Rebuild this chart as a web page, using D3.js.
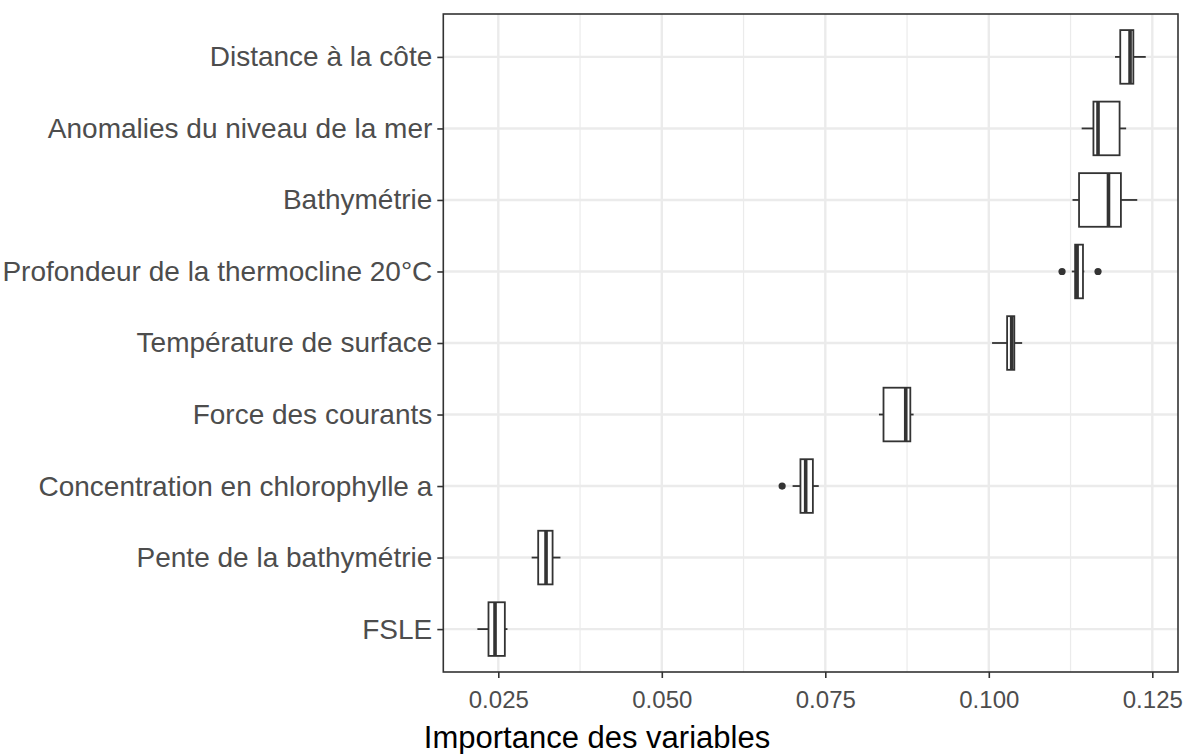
<!DOCTYPE html>
<html><head><meta charset="utf-8">
<script src="https://cdn.jsdelivr.net/npm/d3@7"></script>
<style>body{margin:0;background:#fff}</style>
</head><body><svg id="c" width="1188" height="754"></svg>
<script>
const categories = ["Distance à la côte","Anomalies du niveau de la mer","Bathymétrie","Profondeur de la thermocline 20°C","Température de surface","Force des courants","Concentration en chlorophylle a","Pente de la bathymétrie","FSLE"];
const whiskerLow  = [0.1193, 0.1142, 0.1128, 0.1127, 0.1005, 0.0832, 0.0700, 0.0301, 0.0218];
const q1          = [0.1201, 0.1160, 0.1138, 0.1132, 0.1028, 0.0839, 0.0712, 0.0311, 0.0235];
const median      = [0.1216, 0.1167, 0.1183, 0.1135, 0.1035, 0.0873, 0.0720, 0.0323, 0.0245];
const q3          = [0.1221, 0.1200, 0.1202, 0.1144, 0.1039, 0.0880, 0.0731, 0.0333, 0.0260];
const whiskerHigh = [0.1240, 0.1210, 0.1227, 0.1146, 0.1051, 0.0885, 0.0740, 0.0345, 0.0264];
const outlierCat  = ["Profondeur de la thermocline 20°C","Profondeur de la thermocline 20°C","Concentration en chlorophylle a"];
const outlierVal  = [0.1112, 0.1167, 0.0684];
const xTicks = [0.025, 0.050, 0.075, 0.100, 0.125];
const xMinor = [0.0375, 0.0625, 0.0875, 0.1125];
const xTitle = "Importance des variables";

const svg = d3.select("#c");
const L = 443.3, R = 1178, T = 14, B = 672;
const x = d3.scaleLinear().domain([0.01659, 0.12893]).range([L, R]);
const y = d3.scalePoint().domain(categories).range([T, B]).padding(0.6);
const bw = y.step() * 0.75;
const font = "Liberation Sans, Arial, sans-serif";

const g = svg.append("g");
g.append("rect").attr("x", L).attr("y", T).attr("width", R - L).attr("height", B - T).attr("fill", "#fff");
g.selectAll(".minor").data(xMinor).join("line")
  .attr("x1", d => x(d)).attr("x2", d => x(d)).attr("y1", T).attr("y2", B)
  .attr("stroke", "#ebebeb").attr("stroke-width", 1.2);
g.selectAll(".major").data(xTicks).join("line")
  .attr("x1", d => x(d)).attr("x2", d => x(d)).attr("y1", T).attr("y2", B)
  .attr("stroke", "#ebebeb").attr("stroke-width", 2.4);
g.selectAll(".hmajor").data(categories).join("line")
  .attr("x1", L).attr("x2", R).attr("y1", d => y(d)).attr("y2", d => y(d))
  .attr("stroke", "#ebebeb").attr("stroke-width", 2.4);

const rows = categories.map((c, i) => ({c, lo: whiskerLow[i], q1: q1[i], med: median[i], q3: q3[i], hi: whiskerHigh[i]}));
const col = "#333333";
const bx = g.selectAll(".box").data(rows).join("g");
bx.append("line").attr("x1", d => x(d.lo)).attr("x2", d => x(d.q1)).attr("y1", d => y(d.c)).attr("y2", d => y(d.c)).attr("stroke", col).attr("stroke-width", 1.8);
bx.append("line").attr("x1", d => x(d.q3)).attr("x2", d => x(d.hi)).attr("y1", d => y(d.c)).attr("y2", d => y(d.c)).attr("stroke", col).attr("stroke-width", 1.8);
bx.append("rect").attr("x", d => x(d.q1)).attr("width", d => x(d.q3) - x(d.q1)).attr("y", d => y(d.c) - bw / 2).attr("height", bw)
  .attr("fill", "#fff").attr("stroke", col).attr("stroke-width", 1.8);
bx.append("line").attr("x1", d => x(d.med)).attr("x2", d => x(d.med)).attr("y1", d => y(d.c) - bw / 2).attr("y2", d => y(d.c) + bw / 2).attr("stroke", col).attr("stroke-width", 3.6);

g.selectAll(".out").data(outlierVal.map((v, i) => ({v, c: outlierCat[i]}))).join("circle")
  .attr("cx", d => x(d.v)).attr("cy", d => y(d.c)).attr("r", 3.6).attr("fill", col);

g.append("rect").attr("x", L).attr("y", T).attr("width", R - L).attr("height", B - T).attr("fill", "none").attr("stroke", col).attr("stroke-width", 1.6);

const xa = svg.append("g").attr("transform", `translate(0,${B})`)
  .call(d3.axisBottom(x).tickValues(xTicks).tickFormat(d3.format(".3f")).tickSize(6).tickPadding(13));
xa.select(".domain").remove();
xa.selectAll(".tick line").attr("stroke", col).attr("stroke-width", 1.6);
xa.selectAll(".tick text").attr("fill", "#4d4d4d").style("font-family", font).style("font-size", "24px");

const ya = svg.append("g").attr("transform", `translate(${L},0)`)
  .call(d3.axisLeft(y).tickSize(6).tickPadding(5));
ya.select(".domain").remove();
ya.selectAll(".tick line").attr("stroke", col).attr("stroke-width", 1.6);
ya.selectAll(".tick text").attr("fill", "#4d4d4d").style("font-family", font).style("font-size", "28px");

svg.append("text").attr("x", 597).attr("y", 748).attr("text-anchor", "middle")
  .style("font-family", font).style("font-size", "31px").attr("fill", "#000").text(xTitle);
</script></body></html>
